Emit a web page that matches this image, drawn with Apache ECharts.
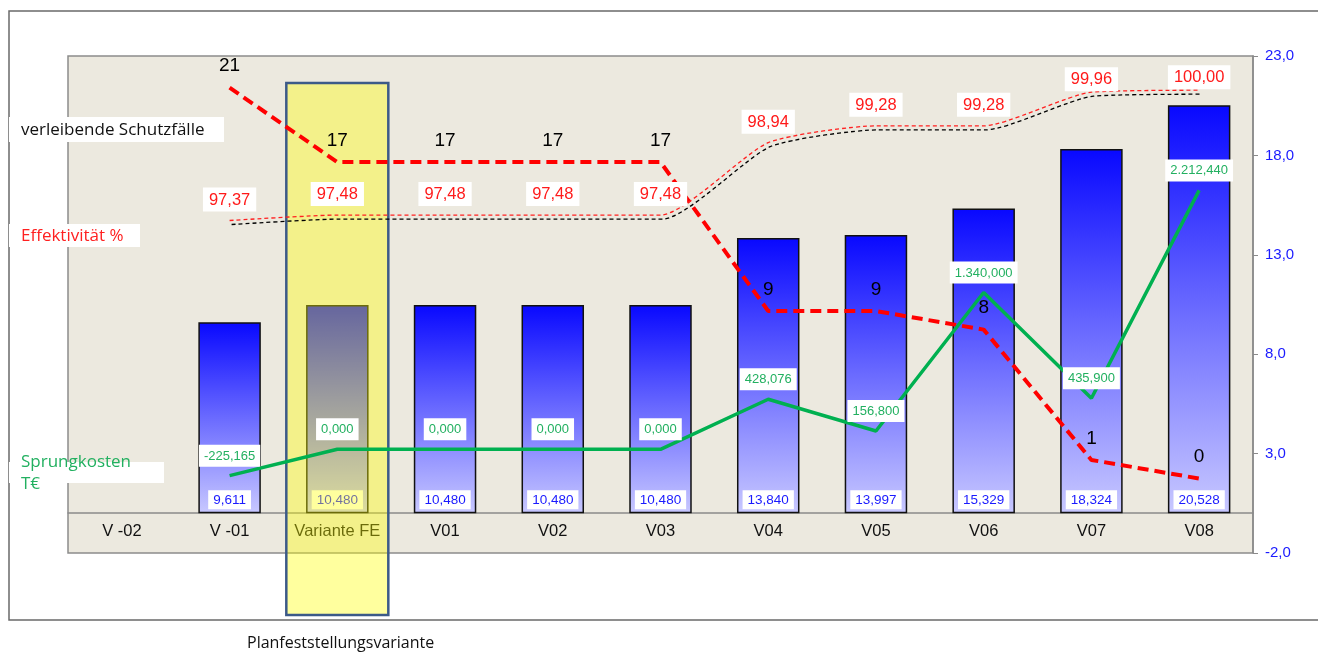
<!DOCTYPE html>
<html>
<head>
<meta charset="utf-8">
<script src="https://cdn.jsdelivr.net/npm/echarts@6/dist/echarts.min.js"></script>
<style>
  html, body { margin: 0; padding: 0; background: #fff; }
  #chart { width: 1318px; height: 653px; }
</style>
</head>
<body>
<div id="chart"></div>
<script>
const categories = ['V -02', 'V -01', 'Variante FE', 'V01', 'V02', 'V03', 'V04', 'V05', 'V06', 'V07', 'V08']
const kosten = [null, 9.611, 10.48, 10.48, 10.48, 10.48, 13.84, 13.997, 15.329, 18.324, 20.528]
const schutzfaelle = [null, 21, 17, 17, 17, 17, 9, 9, 8, 1, 0]
const effektivitaet = [null, 97.37, 97.48, 97.48, 97.48, 97.48, 98.94, 99.28, 99.28, 99.96, 100.00]
const sprungkosten = [null, -225.165, 0, 0, 0, 0, 428.076, 156.8, 1340, 435.9, 2212.44]
const rightTicks = [-2, 3, 8, 13, 18, 23]

// deutsches Zahlenformat: 2.212,440
const deNum = (v, d) => {
  const s = Math.abs(v).toFixed(d).split('.')
  const int = s[0].replace(/\B(?=(\d{3})+(?!\d))/g, '.')
  return (v < 0 ? '-' : '') + int + (d ? ',' + s[1] : '')
}

const FONT = 'Liberation Sans, Arial, sans-serif'
const NARROW = 'Liberation Sans Narrow, Open Sans, sans-serif'
const hiddenSymbol = { symbol: 'circle', symbolSize: 0.01, itemStyle: { color: 'rgba(0,0,0,0)' } }

const GRID = { left: 68, right: 65, top: 56, bottom: 100 }
const plotH = 653 - GRID.top - GRID.bottom
const yMin = rightTicks[0]
const yMax = rightTicks[rightTicks.length - 1]
// Kategorieachse liegt auf der Null der rechten Achse
const xOffset = -(0 - yMin) / (yMax - yMin) * plotH

const chart = echarts.init(document.getElementById('chart'))

chart.setOption({
  animation: false,
  textStyle: { fontFamily: FONT },
  grid: {
    ...GRID,
    show: true, backgroundColor: '#ECE9DF', borderColor: '#8c8c8c', borderWidth: 1.5
  },
  xAxis: {
    type: 'category',
    data: categories,
    boundaryGap: true,
    offset: xOffset,
    axisLine: { onZero: false, lineStyle: { color: '#8a8a8a', width: 1.5 } },
    axisTick: { interval: 0, length: 4, lineStyle: { color: '#8a8a8a' } },
    axisLabel: { interval: 0, color: '#111', fontSize: 16.5, margin: 10, fontFamily: FONT },
    splitLine: { show: false }
  },
  yAxis: [
    {
      type: 'value', position: 'right', min: yMin, max: yMax,
      axisLine: { show: true, lineStyle: { color: '#8a8a8a', width: 1.5 } },
      axisTick: { show: true, customValues: rightTicks, length: 5, lineStyle: { color: '#8a8a8a' } },
      axisLabel: {
        customValues: rightTicks, color: '#1a1aff', fontSize: 15, margin: 12, fontFamily: FONT,
        formatter: v => deNum(v, 1)
      },
      splitLine: { show: false }
    },
    { type: 'value', min: -4, max: 22.7, show: false },
    { type: 'value', min: 90.66, max: 100.69, show: false },
    { type: 'value', min: -886, max: 3361, show: false }
  ],
  series: [
    {
      name: 'Kosten',
      type: 'bar',
      yAxisIndex: 0,
      z: 2,
      barWidth: '58%',
      data: kosten,
      itemStyle: {
        color: new echarts.graphic.LinearGradient(0, 0, 0, 1, [
          { offset: 0, color: '#0808ff' },
          { offset: 0.5, color: '#6a6aff' },
          { offset: 1, color: '#c8c8ff' }
        ]),
        borderColor: '#111',
        borderWidth: 1.5
      },
      label: {
        show: true, position: 'insideBottom', distance: 4, fontFamily: FONT,
        color: '#1a1aff', fontSize: 13.5, backgroundColor: '#fff', padding: [3, 5, 2, 5],
        formatter: p => deNum(p.value, 3)
      }
    },
    {
      name: 'verleibende Schutzfälle',
      type: 'line',
      yAxisIndex: 1,
      z: 4,
      ...hiddenSymbol,
      data: schutzfaelle,
      lineStyle: { color: '#ff0000', width: 4, type: [11, 6] },
      label: { show: true, position: 'top', distance: 12, color: '#000', fontSize: 19, fontFamily: FONT }
    },
    {
      name: 'Effektivität %',
      type: 'line',
      yAxisIndex: 2,
      z: 4,
      smooth: 0.2,
      ...hiddenSymbol,
      data: effektivitaet.map((v, i) => i >= 9 ? { value: v, label: { distance: 1 } } : v),
      lineStyle: {
        color: '#ff2020', width: 1.3, type: [4, 3],
        shadowColor: '#000', shadowBlur: 0, shadowOffsetX: 2, shadowOffsetY: 4
      },
      label: {
        show: true, position: 'top', distance: 9, fontFamily: FONT,
        color: '#ff1a1a', fontSize: 16.5, backgroundColor: '#fff', padding: [4, 6, 3, 6],
        formatter: p => deNum(p.value, 2)
      }
    },
    {
      name: 'Sprungkosten',
      type: 'line',
      yAxisIndex: 3,
      z: 4,
      ...hiddenSymbol,
      data: sprungkosten,
      lineStyle: { color: '#00b050', width: 3.5 },
      label: {
        show: true, position: 'top', distance: 9, fontFamily: FONT,
        color: '#22b060', fontSize: 13, backgroundColor: '#fff', padding: [5, 5, 4, 5],
        formatter: p => deNum(p.value, 3)
      }
    }
  ],
  graphic: [
    {
      id: 'frame', type: 'rect', z: 0, silent: true,
      shape: { x: 9, y: 11, width: 1340, height: 609 },
      style: { fill: 'none', stroke: '#6a6a6a', lineWidth: 1.5 }
    },
    { id: 'b1', type: 'rect', z: 5, shape: { x: 9, y: 117, width: 215, height: 25 }, style: { fill: '#fff' } },
    {
      id: 't1', type: 'text', z: 6, x: 21, y: 130,
      style: { text: 'verleibende Schutzfälle', fill: '#111', font: '17px ' + NARROW, verticalAlign: 'middle' }
    },
    { id: 'b2', type: 'rect', z: 5, shape: { x: 9, y: 224, width: 131, height: 23 }, style: { fill: '#fff' } },
    {
      id: 't2', type: 'text', z: 6, x: 21, y: 236,
      style: { text: 'Effektivität %', fill: '#ff2020', font: '17px ' + NARROW, verticalAlign: 'middle' }
    },
    { id: 'b3', type: 'rect', z: 5, shape: { x: 9, y: 462, width: 155, height: 21 }, style: { fill: '#fff' } },
    {
      id: 't3', type: 'text', z: 6, x: 21, y: 451,
      style: { text: 'Sprungkosten\nT€', fill: '#22b060', font: '17px ' + NARROW, lineHeight: 22, verticalAlign: 'top' }
    },
    {
      id: 't4', type: 'text', z: 6, x: 247, y: 643,
      style: { text: 'Planfeststellungsvariante', fill: '#111', font: '16px ' + NARROW, verticalAlign: 'middle' }
    }
  ]
})

// Markierung der Planfeststellungsvariante
const cx = chart.convertToPixel({ xAxisIndex: 0 }, 'Variante FE')
chart.setOption({
  graphic: [
    {
      id: 'fe', type: 'rect', z: 3, silent: true,
      shape: { x: cx - 51, y: 83, width: 102, height: 532 },
      style: { fill: 'rgba(255,255,0,0.38)', stroke: '#3c5a88', lineWidth: 2.5 }
    }
  ]
})
</script>
</body>
</html>
